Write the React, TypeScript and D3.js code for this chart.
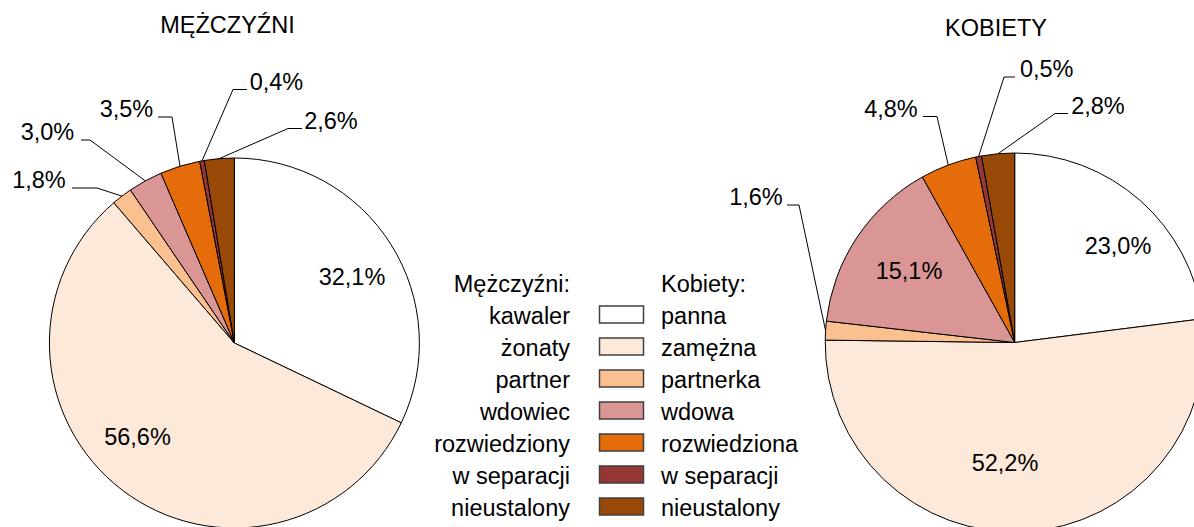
import React, { useEffect } from "react";
import * as d3 from "d3";

// ---- data ----
const categoriesMen = ["kawaler", "żonaty", "partner", "wdowiec", "rozwiedziony", "w separacji", "nieustalony"];
const categoriesWomen = ["panna", "zamężna", "partnerka", "wdowa", "rozwiedziona", "w separacji", "nieustalony"];
const valuesMen = [32.1, 56.6, 1.8, 3.0, 3.5, 0.4, 2.6];
const valuesWomen = [23.0, 52.2, 1.6, 15.1, 4.8, 0.5, 2.8];
const titleMen = "MĘŻCZYŹNI";
const titleWomen = "KOBIETY";
const legendHeaderMen = "Mężczyźni:";
const legendHeaderWomen = "Kobiety:";

// ---- styles / layout ----
const colors = ["#FFFFFF", "#FDE9D9", "#FAC090", "#D99694", "#E46C0A", "#953735", "#984807"];
const FONT = "'Liberation Sans', Arial, Helvetica, sans-serif";
const FS = 23.5;

type LabelLayout = { x: number; y: number; seg?: [number, number] };

const pieMen = { cx: 234.4, cy: 343, r: 185 };
const pieWomen = { cx: 1014.7, cy: 342.5, r: 189.5 };

// label text baseline centers and optional leader-line horizontal segments
const labelsMen: LabelLayout[] = [
  { x: 352, y: 285 },
  { x: 137.5, y: 445 },
  { x: 39, y: 188, seg: [72, 97] },
  { x: 47.5, y: 140, seg: [81, 90] },
  { x: 126.5, y: 117, seg: [158, 172] },
  { x: 276.5, y: 89.5, seg: [247, 233] },
  { x: 331, y: 128.5, seg: [302, 288] },
];
const labelsWomen: LabelLayout[] = [
  { x: 1118, y: 254 },
  { x: 1005, y: 471 },
  { x: 756, y: 205, seg: [787, 799] },
  { x: 909, y: 279 },
  { x: 891, y: 116.5, seg: [923, 937] },
  { x: 1046.7, y: 77, seg: [1015, 1004] },
  { x: 1098, y: 113.5, seg: [1068, 1055] },
];

const fmt = (v: number) => v.toFixed(1).replace(".", ",") + "%";

function Pie({ values, geom, labels, title, titleX, titleY }: any) {
  const pie = d3.pie<number>().sort(null).startAngle(0).endAngle(2 * Math.PI);
  const arcs = pie(values);
  const arc = d3.arc<d3.PieArcDatum<number>>().innerRadius(0).outerRadius(geom.r);
  return (
    <g>
      <text x={titleX} y={titleY} textAnchor="middle" fontFamily={FONT} fontSize={FS} fill="#000">
        {title}
      </text>
      <g transform={`translate(${geom.cx},${geom.cy})`}>
        {arcs.map((a, i) => (
          <path key={i} d={arc(a) || ""} fill={colors[i]} stroke="#000" strokeWidth={1} strokeLinejoin="round" />
        ))}
      </g>
      {arcs.map((a, i) => {
        const L: LabelLayout = labels[i];
        const mid = (a.startAngle + a.endAngle) / 2;
        const px = geom.cx + geom.r * Math.sin(mid);
        const py = geom.cy - geom.r * Math.cos(mid);
        return (
          <g key={"l" + i}>
            {L.seg && (
              <polyline
                points={`${L.seg[0]},${L.y} ${L.seg[1]},${L.y} ${px},${py}`}
                fill="none"
                stroke="#000"
                strokeWidth={1}
              />
            )}
            <text x={L.x} y={L.y} textAnchor="middle" fontFamily={FONT} fontSize={FS} fill="#000">
              {fmt(values[i])}
            </text>
          </g>
        );
      })}
    </g>
  );
}

function Legend() {
  const rowY = d3.scaleLinear().domain([0, 1]).range([314.5, 346.5]);
  const swX = 599;
  const swW = 44;
  const swH = 17;
  return (
    <g fontFamily={FONT} fontSize={FS} fill="#000">
      <text x={570} y={rowY(-1) + 9.5} textAnchor="end">{legendHeaderMen}</text>
      <text x={661} y={rowY(-1) + 9.5} textAnchor="start">{legendHeaderWomen}</text>
      {categoriesMen.map((c, i) => (
        <g key={i}>
          <text x={570} y={rowY(i) + 9.5} textAnchor="end">{c}</text>
          <rect
            x={swX + 0.5}
            y={rowY(i) - swH / 2}
            width={swW}
            height={swH}
            fill={colors[i]}
            stroke="#404040"
            strokeWidth={1.5}
          />
          <text x={661} y={rowY(i) + 9.5} textAnchor="start">{categoriesWomen[i]}</text>
        </g>
      ))}
    </g>
  );
}

export default function App() {
  useEffect(() => {
    document.body.style.margin = "0";
  }, []);
  return (
    <svg
      width={1194}
      height={527}
      viewBox="0 0 1194 527"
      style={{ display: "block", position: "absolute", left: 0, top: 0, background: "#fff", overflow: "hidden" }}
    >
      <rect x={0} y={0} width={1194} height={527} fill="#fff" />
      <Pie values={valuesMen} geom={pieMen} labels={labelsMen} title={titleMen} titleX={227.5} titleY={33} />
      <Pie values={valuesWomen} geom={pieWomen} labels={labelsWomen} title={titleWomen} titleX={996} titleY={36} />
      <Legend />
    </svg>
  );
}
